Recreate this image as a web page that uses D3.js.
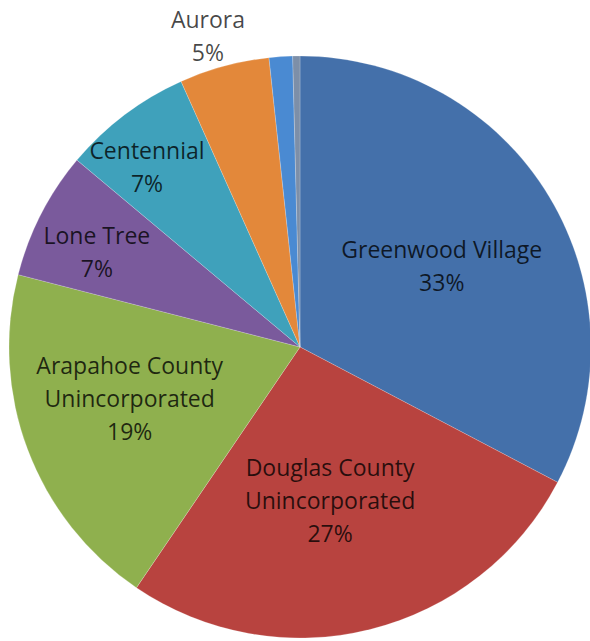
<!DOCTYPE html>
<html>
<head>
<meta charset="utf-8">
<script src="https://cdn.jsdelivr.net/npm/d3@7"></script>
<style>
  body { margin: 0; background: #fff; }
  svg text { font-family: "Open Sans", "DejaVu Sans", sans-serif; }
</style>
</head>
<body>
<div id="chart"></div>
<script>
// slice data, clockwise from 12 o'clock
const names   = ["Greenwood Village", "Douglas County Unincorporated", "Arapahoe County Unincorporated",
                 "Lone Tree", "Centennial", "Aurora", "Other A", "Other B"];
const shares  = [32.7, 26.8, 19.5, 7.1, 7.2, 5.0, 1.3, 0.4];
const pctText = ["33%", "27%", "19%", "7%", "7%", "5%", "", ""];
const labelLines = [
  ["Greenwood Village"],
  ["Douglas County", "Unincorporated"],
  ["Arapahoe County", "Unincorporated"],
  ["Lone Tree"],
  ["Centennial"],
  ["Aurora"],
  [],
  []
];
const colors  = ["#4470aa", "#b8433f", "#8fb04e", "#7a5a9c", "#3fa1bb", "#e3883a", "#4a8ad2", "#7d8fa8"];

// label placement: distance from centre (fraction of radius) and a small angle nudge (deg)
const labelRadius = [0.56, 0.54, 0.612, 0.77, 0.81, 1.113, 0, 0];
const labelNudge  = [1.6, 3, 3.7, -2.2, -3.4, -1.4, 0, 0];

const W = 590, H = 641;
const cx = 300, cy = 347, R = 291;

const svg = d3.select("#chart").append("svg")
  .attr("width", W)
  .attr("height", H);

const g = svg.append("g").attr("transform", `translate(${cx},${cy})`);

const pie = d3.pie().sort(null).value(d => d);
const arcs = pie(shares);

const arc = d3.arc().innerRadius(0).outerRadius(R);

g.selectAll("path.slice")
  .data(arcs)
  .enter()
  .append("path")
    .attr("class", "slice")
    .attr("d", arc)
    .attr("fill", (d, i) => colors[i])
    .attr("stroke", "rgba(255,255,255,0.25)")
    .attr("stroke-width", 0.8);

// labels
const lineH = 33;
arcs.forEach((d, i) => {
  if (!labelLines[i].length) return;
  const mid = (d.startAngle + d.endAngle) / 2 + labelNudge[i] * Math.PI / 180;
  const r = R * labelRadius[i];
  const x = Math.sin(mid) * r;
  const y = -Math.cos(mid) * r;
  const lines = labelLines[i].concat([pctText[i]]);
  const t = g.append("text")
    .attr("text-anchor", "middle")
    .attr("fill", "#000")
    .attr("fill-opacity", i === 5 ? 0.72 : 0.78)
    .style("font-size", "23px");
  lines.forEach((ln, k) => {
    t.append("tspan")
      .attr("x", x)
      .attr("y", y + (k - (lines.length - 1) / 2) * lineH)
      .attr("dy", "0.35em")
      .text(ln);
  });
});
</script>
</body>
</html>
